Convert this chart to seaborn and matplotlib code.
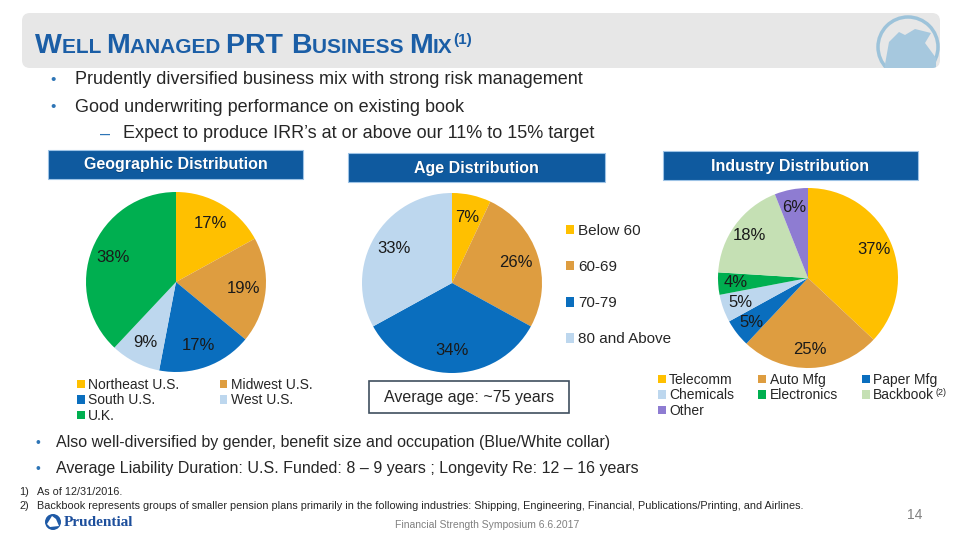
import matplotlib
matplotlib.use("Agg")
import matplotlib.pyplot as plt
from matplotlib.patches import FancyBboxPatch, Rectangle, Circle, Polygon
import seaborn as sns

# data
geo_labels = ["Northeast U.S.", "Midwest U.S.", "South U.S.", "West U.S.", "U.K."]
geo_values = [17, 19, 17, 9, 38]
age_labels = ["Below 60", "60-69", "70-79", "80 and Above"]
age_values = [7, 26, 34, 33]
ind_labels = ["Telecomm", "Auto Mfg", "Paper Mfg", "Chemicals", "Electronics", "Backbook", "Other"]
ind_values = [37, 25, 5, 5, 4, 18, 6]

geo_colors = ["#FFC000", "#DE9D40", "#0A6EBE", "#BDD7EE", "#00AF50"]
age_colors = ["#FFC000", "#DE9D40", "#0A6EBE", "#BDD7EE"]
ind_colors = ["#FFC000", "#DE9D40", "#0A6EBE", "#BDD7EE", "#00AF50", "#C5E0B4", "#8E7CD2"]

top_bullets = ["Prudently diversified business mix with strong risk management",
               "Good underwriting performance on existing book"]
sub_bullet = "Expect to produce IRR\u2019s at or above our 11% to 15% target"
bottom_bullets = ["Also well-diversified by gender, benefit size and occupation (Blue/White collar)",
                  "Average Liability Duration: U.S. Funded: 8 \u2013 9 years ; Longevity Re: 12 \u2013 16 years"]
footnotes = ["As of 12/31/2016.",
             "Backbook represents groups of smaller pension plans primarily in the following industries: "
             "Shipping, Engineering, Financial, Publications/Printing, and Airlines."]
headers = ["Geographic Distribution", "Age Distribution", "Industry Distribution"]

sns.set_theme(style="white")
plt.rcParams["font.family"] = ["Liberation Sans", "DejaVu Sans"]

W, H = 960, 540
TXT = "#262626"
BLUE = "#1B5EA6"
fig = plt.figure(figsize=(9.6, 5.4), dpi=100)
bg = fig.add_axes([0, 0, 1, 1])
bg.set_xlim(0, W)
bg.set_ylim(H, 0)
bg.axis("off")

# title bar
bar = FancyBboxPatch((22, 13), 918, 55, boxstyle="round,pad=0,rounding_size=8",
                     facecolor="#E7E7E7", edgecolor="none")
bg.add_patch(bar)
logo_ring = Circle((908, 47), 30, facecolor="none", edgecolor="#9DC3DA", lw=2.5)
bg.add_patch(logo_ring)
logo_ring.set_clip_path(bar)
rock = Polygon([(884, 70), (889, 42), (899, 32), (905, 35), (915, 29), (931, 33),
                (925, 43), (936, 58), (936, 70)], closed=True, facecolor="#A6C8DE", edgecolor="none")
bg.add_patch(rock)
rock.set_clip_path(bar)

# small caps title
renderer = fig.canvas.get_renderer()
pieces = [("W", 20.5), ("ELL ", 15), ("M", 20.5), ("ANAGED ", 15), ("PRT ", 20.5),
          ("B", 20.5), ("USINESS ", 15), ("M", 20.5), ("IX", 15)]
x = 35
for s, size in pieces:
    t = bg.text(x, 53, s, fontsize=size, fontweight="bold", color=BLUE, va="baseline")
    x += t.get_window_extent(renderer).width
bg.text(x + 1, 44, "(1)", fontsize=11, fontweight="bold", color=BLUE, va="baseline")

# top bullets
for i, line in enumerate(top_bullets):
    y = 80 + 27 * i
    bg.text(50, y, "\u2022", fontsize=11, color="#2E75B6", va="center")
    bg.text(75, y, line, fontsize=13, color=TXT, va="center")
bg.text(100, 134, "\u2013", fontsize=13, color="#2E75B6", va="center")
bg.text(123, 134, sub_bullet, fontsize=13, color=TXT, va="center")

# header boxes
for (x0, y0, w), label in zip([(48, 150, 255), (348, 153, 257), (663, 151, 255)], headers):
    bg.add_patch(Rectangle((x0, y0), w, 29, facecolor="#0F5A9F", edgecolor="#9DC3E6", lw=0.8))
    bg.text(x0 + w / 2 + 0.8, y0 + 15.8, label, fontsize=11.5, fontweight="bold",
            color="#0A2E50", alpha=0.5, ha="center", va="center")
    bg.text(x0 + w / 2, y0 + 15, label, fontsize=11.5, fontweight="bold",
            color="white", ha="center", va="center")


def pie_axes(cx, cy, r):
    return fig.add_axes([(cx - r) / W, 1 - (cy + r) / H, 2 * r / W, 2 * r / H])


def draw_pie(ax, values, colors, dist):
    wedges, _, autotexts = ax.pie(values, colors=colors, startangle=90, counterclock=False,
                                  autopct=lambda p: f"{p:.0f}%", pctdistance=dist,
                                  textprops=dict(fontsize=12, color="#1A1A1A"),
                                  wedgeprops=dict(linewidth=0))
    ax.set_xlim(-1, 1)
    ax.set_ylim(-1, 1)
    ax.axis("off")
    return wedges


leg_kw = dict(loc="upper left", bbox_transform=fig.transFigure, frameon=False,
              handlelength=0.55, handleheight=0.55, handletextpad=0.25,
              borderpad=0, borderaxespad=0)

# geographic
ax1 = pie_axes(176, 282, 90)
w1 = draw_pie(ax1, geo_values, geo_colors, 0.75)
order = [0, 2, 4, 1, 3]
ax1.legend([w1[i] for i in order], [geo_labels[i] for i in order], ncol=2,
           bbox_to_anchor=(77 / W, 1 - 378 / H), fontsize=10, columnspacing=2.9,
           labelspacing=0.1, **leg_kw)

# age
ax2 = pie_axes(452, 283, 90)
w2 = draw_pie(ax2, age_values, age_colors, 0.75)
ax2.legend(w2, age_labels, bbox_to_anchor=(566 / W, 1 - 224 / H), fontsize=11,
           labelspacing=1.45, **leg_kw)
bg.add_patch(Rectangle((369, 381), 200, 32, facecolor="white", edgecolor="#3F4F5F", lw=1.2))
bg.text(469, 397.5, "Average age: ~75 years", fontsize=11.5, color=TXT, ha="center", va="center")

# industry
ax3 = pie_axes(808, 278, 90)
w3 = draw_pie(ax3, ind_values, ind_colors, 0.8)
order = [0, 3, 6, 1, 4, 2, 5]
leg3 = ax3.legend([w3[i] for i in order], [ind_labels[i] for i in order], ncol=3,
                  bbox_to_anchor=(658 / W, 1 - 373 / H), fontsize=10, columnspacing=1.75,
                  labelspacing=0.1, **leg_kw)
fig.canvas.draw()
bb = [t for t in leg3.get_texts() if t.get_text() == "Backbook"][0].get_window_extent(renderer)
bg.text(bb.x1 + 1, H - bb.y1, "(2)", fontsize=6.5, color=TXT, va="top")

# bottom bullets
for i, line in enumerate(bottom_bullets):
    y = 443 + 26 * i
    bg.text(36, y, "\u2022", fontsize=10, color="#2E75B6", va="center")
    bg.text(56, y, line, fontsize=11.5, color=TXT, va="center")

for i, note in enumerate(footnotes):
    y = 492 + 14 * i
    bg.text(19, y, f"{i + 1})", fontsize=7.8, color=TXT, va="center")
    bg.text(37, y, note, fontsize=7.8, color=TXT, va="center")

bg.text(487, 525, "Financial Strength Symposium 6.6.2017", fontsize=7.5, color="#808080",
        ha="center", va="center")
bg.text(915, 515, "14", fontsize=10, color="#808080", ha="center", va="center")

# prudential mark
bg.add_patch(Circle((53, 522), 8, facecolor="#1F5AA6", edgecolor="none"))
bg.add_patch(Polygon([(47, 524), (52, 516), (56, 519), (59, 526), (50, 527)], closed=True,
                     facecolor="white", edgecolor="none"))
bg.text(64, 523, "Prudential", fontsize=11, fontweight="bold", color="#1D4F9C",
        va="center", family=["Liberation Serif", "DejaVu Serif"])

fig.savefig("out.png", dpi=100)
